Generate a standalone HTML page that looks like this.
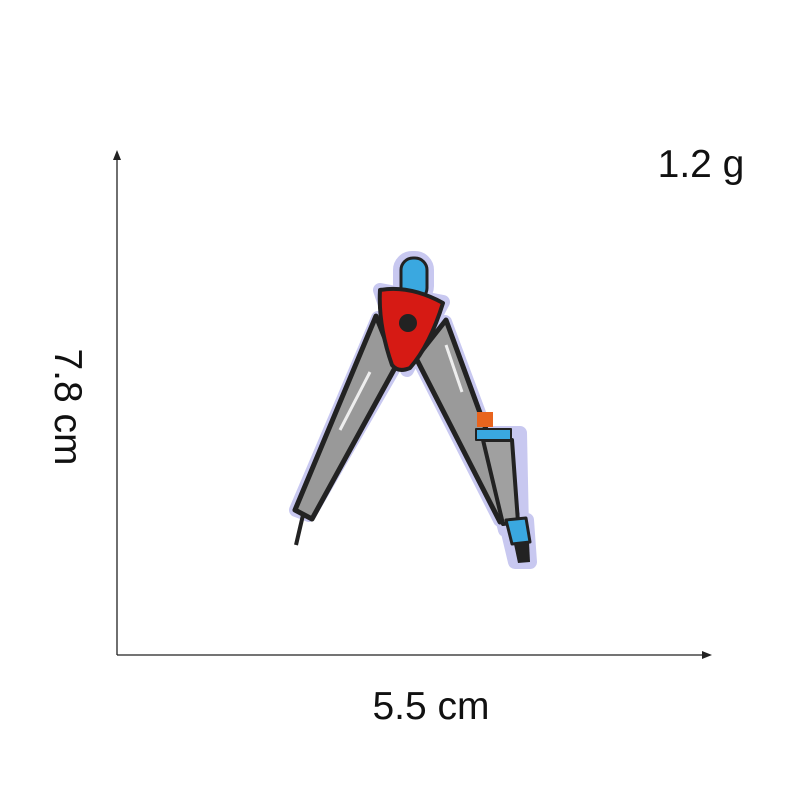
<!DOCTYPE html>
<html><head><meta charset="utf-8"><style>
html,body{margin:0;padding:0;background:#fff}
svg{display:block}
text{font-family:"Liberation Sans",sans-serif;fill:#111}
</style></head><body>
<svg width="800" height="800" viewBox="0 0 800 800">
<g>
<line x1="117" y1="655" x2="117" y2="158" stroke="#222" stroke-width="1.3"/>
<polygon points="117,150 113,160 121,160" fill="#222"/>
<line x1="117" y1="655" x2="704" y2="655" stroke="#222" stroke-width="1.3"/>
<polygon points="712,655 702,651 702,659" fill="#222"/>
</g>
<text x="431" y="719" font-size="39" text-anchor="middle">5.5 cm</text>
<text transform="translate(55,407) rotate(90)" font-size="39" text-anchor="middle">7.8 cm</text>
<text x="701" y="177" font-size="39" text-anchor="middle">1.2 g</text>
<g stroke-linejoin="round">
<g stroke="#c8c8f0" stroke-width="14" fill="#c8c8f0">
<polygon points="378,318 395,366 309,515 296,510"/>
<polygon points="445,322 418,358 500,520 516,512"/>
<polygon points="480,433 520,433 522,530 505,530"/>
<polygon points="380,290 443,302 407,370"/>
<rect x="400" y="258" width="27" height="40" rx="12"/>
<polygon points="505,520 527,520 530,562 515,562"/>
</g>
<line x1="303" y1="515" x2="296" y2="545" stroke="#222" stroke-width="4"/>
<polygon points="376,316 396,366 312,519 295,510" fill="#999" stroke="#222" stroke-width="5"/>
<line x1="370" y1="372" x2="340" y2="430" stroke="#eee" stroke-width="3"/>
<polygon points="446,320 416,358 500,522 517,514" fill="#9a9a9a" stroke="#222" stroke-width="5"/>
<line x1="446" y1="345" x2="462" y2="392" stroke="#eee" stroke-width="3"/>
<polygon points="483,440 512,440 518,522 503,524" fill="#a0a0a0" stroke="#222" stroke-width="4"/>
<rect x="477" y="412" width="16" height="15" fill="#e8641e"/>
<rect x="476" y="429" width="35" height="11" fill="#3aa8e0" stroke="#222" stroke-width="2"/>
<polygon points="506,520 526,518 530,542 512,544" fill="#3aa8e0" stroke="#222" stroke-width="3"/>
<polygon points="514,544 529,542 530,562 518,563" fill="#222"/>
<rect x="401" y="258" width="26" height="42" rx="12" fill="#3aa8e0" stroke="#222" stroke-width="3"/>
<path d="M380,290 Q410,285 443,303 Q430,345 410,368 Q398,373 392,365 Q378,325 380,290 Z" fill="#d61a14" stroke="#222" stroke-width="4"/>
<circle cx="408" cy="323" r="9" fill="#222"/>
</g>
</svg>
</body></html>
